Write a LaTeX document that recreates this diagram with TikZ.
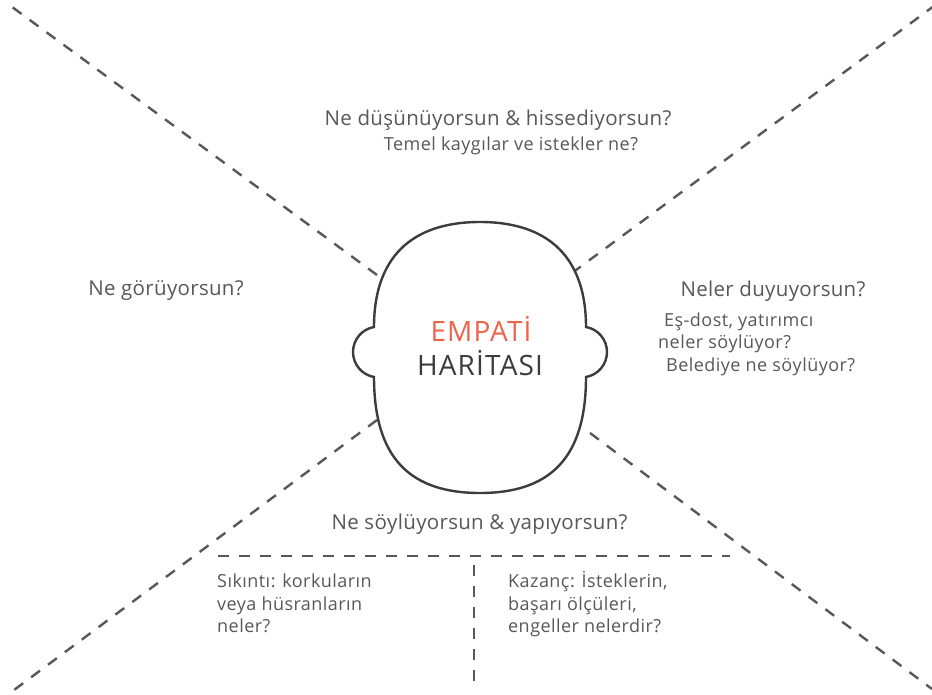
\documentclass[tikz,border=0pt]{standalone}
\usepackage{fontspec}
\setmainfont{Open Sans}
\newfontfamily\qfont{Open Sans}[LetterSpace=1.5]
\newfontfamily\subfont{Open Sans}[LetterSpace=2.5]
\newfontfamily\ttlfont{Open Sans}[LetterSpace=4]
\definecolor{txt}{RGB}{88,88,88}
\definecolor{emp}{RGB}{240,98,74}
\definecolor{dsh}{RGB}{88,88,88}
\definecolor{headc}{RGB}{60,60,60}
\begin{document}
\begin{tikzpicture}[x=1pt,y=-1pt,
  dashline/.style={draw=dsh, line width=2.4pt, dash pattern=on 11pt off 10pt},
  headline/.style={draw=headc, line width=2.4pt, fill=white},
  qtext/.style={text=txt, font=\qfont\fontsize{20.5}{24}\selectfont, inner sep=0pt, anchor=base},
  qsub/.style={text=txt, font=\subfont\fontsize{18}{21}\selectfont, inner sep=0pt, anchor=base},
  stext/.style={text=txt, font=\subfont\fontsize{18}{21}\selectfont, inner sep=0pt, anchor=base west},
  titletext/.style={font=\ttlfont\fontsize{28}{32}\selectfont, inner sep=0pt, anchor=base}]
\useasboundingbox (0,0) rectangle (932,695);
\fill[white] (0,0) rectangle (932,695);
% connector end points
\coordinate (tl0) at (8,4);    \coordinate (tl1) at (377,275);
\coordinate (tr0) at (934,6);  \coordinate (tr1) at (572,273);
\coordinate (bl0) at (10,693); \coordinate (bl1) at (377,420);
\coordinate (br0) at (932,689);\coordinate (br1) at (590,433);
\coordinate (h0) at (218,556); \coordinate (h1) at (730,556);
\coordinate (v0) at (474,565); \coordinate (v1) at (474,681);
\draw[dashline] (tl1) -- (tl0);
\draw[dashline] (tr1) -- (tr0);
\draw[dashline] (bl1) -- (bl0);
\draw[dashline] (br1) -- (br0);
\draw[dashline] (h0) -- (h1);
\draw[dashline] (v0) -- (v1);
% head
\draw[headline] (374,327) .. controls (374,259) and (410,222) .. (480,222)
  .. controls (550,222) and (586,259) .. (586,327)
  .. controls (598.1,329.1) and (607,339.7) .. (607,352)
  .. controls (607,364.3) and (598.1,374.9) .. (586,377)
  .. controls (586,458) and (550,493) .. (480,493)
  .. controls (410,493) and (374,458) .. (374,377)
  .. controls (361.9,374.9) and (353,364.3) .. (353,352)
  .. controls (353,339.7) and (361.9,329.1) .. (374,327) -- cycle;
% texts
\node[titletext, text=emp] (emp) at (481,341) {EMPATİ};
\node[titletext, text=headc] (har) at (480,375) {HARİTASI};
\node[qtext] (think) at (498,126) {Ne düşünüyorsun \& hissediyorsun?};
\node[qsub] (think2) at (511,151) {Temel kaygılar ve istekler ne?};
\node[qtext] (see) at (166,295) {Ne görüyorsun?};
\node[qtext] (hear) at (773,296) {Neler duyuyorsun?};
\node[stext] (hear1) at (664,326) {Eş-dost, yatırımcı};
\node[stext] (hear2) at (658,348) {neler söylüyor?};
\node[stext] (hear3) at (666,371) {Belediye ne söylüyor?};
\node[qtext] (say) at (479.5,529) {Ne söylüyorsun \& yapıyorsun?};
\node[stext] (pain1) at (217,587) {Sıkıntı: korkuların};
\node[stext] (pain2) at (217,610) {veya hüsranların};
\node[stext] (pain3) at (217,632) {neler?};
\node[stext] (gain1) at (508,587) {Kazanç: İsteklerin,};
\node[stext] (gain2) at (508,610) {başarı ölçüleri,};
\node[stext] (gain3) at (508,632) {engeller nelerdir?};
\end{tikzpicture}
\end{document}
